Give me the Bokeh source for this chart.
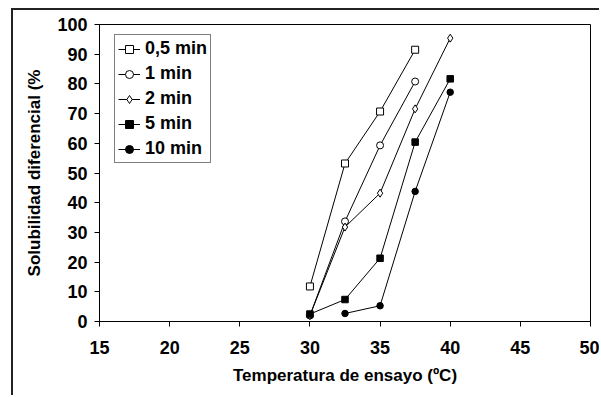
import numpy as np
from bokeh.plotting import figure
from bokeh.models import FixedTicker, Range1d
from bokeh.embed import file_html
from bokeh.resources import INLINE

# Data
temps_05 = [30, 32.5, 35, 37.5]
sol_05 = [11.8, 53.2, 70.7, 91.5]
temps_1 = [30, 32.5, 35, 37.5]
sol_1 = [2.0, 33.7, 59.3, 80.8]
temps_2 = [30, 32.5, 35, 37.5, 40]
sol_2 = [2.0, 31.8, 43.2, 71.6, 95.4]
temps_5 = [30, 32.5, 35, 37.5, 40]
sol_5 = [2.5, 7.4, 21.3, 60.4, 81.7]
temps_10 = [32.5, 35, 37.5, 40]
sol_10 = [2.7, 5.3, 43.8, 77.2]
series_labels = ["0,5 min", "1 min", "2 min", "5 min", "10 min"]
x_ticks = [15, 20, 25, 30, 35, 40, 45, 50]
y_ticks = [0, 10, 20, 30, 40, 50, 60, 70, 80, 90, 100]

FONT = "Liberation Sans"

# host at (11, 8) with 2px left/top border -> canvas at (13, 10); frame at x 99..590, y 24..321
p = figure(width=588, height=387, output_backend="svg", toolbar_location=None,
           x_range=Range1d(15, 50), y_range=Range1d(0, 100),
           min_border_left=86, min_border_top=14, min_border_right=11, min_border_bottom=76)
p.margin = (8, 0, 0, 11)
p.styles = {"border": "2px solid #222222",
            "border-right-style": "none",
            "border-bottom-style": "none",
            "background": "#ffffff"}

p.xgrid.visible = False
p.ygrid.visible = False
p.outline_line_color = "black"
p.outline_line_width = 1
p.background_fill_color = "white"
p.border_fill_alpha = 0

for ax in (p.xaxis[0], p.yaxis[0]):
    ax.axis_line_color = "black"
    ax.major_tick_line_color = "black"
    ax.minor_tick_line_color = None
    ax.major_tick_in = 0
    ax.major_tick_out = 5
    ax.major_label_text_font = FONT
    ax.major_label_text_font_style = "bold"
    ax.major_label_text_font_size = "18px"
    ax.major_label_text_color = "black"
    ax.axis_label_text_font = FONT
    ax.axis_label_text_font_style = "bold"
    ax.axis_label_text_font_size = "17px"
    ax.axis_label_text_color = "black"

p.xaxis.ticker = FixedTicker(ticks=x_ticks)
p.yaxis.ticker = FixedTicker(ticks=y_ticks)
p.xaxis.major_label_standoff = 14
p.yaxis.major_label_standoff = 7
p.xaxis.axis_label = "Temperatura de ensayo (ºC)"
p.yaxis.axis_label = "Solubilidad diferencial (%"
p.xaxis.axis_label_standoff = 9
p.yaxis.axis_label_standoff = 10

lw = 1
p.line(temps_05, sol_05, line_color="black", line_width=lw, legend_label=series_labels[0])
p.scatter(temps_05, sol_05, marker="square", size=7, fill_color="white", line_color="black",
          legend_label=series_labels[0])

p.line(temps_1, sol_1, line_color="black", line_width=lw, legend_label=series_labels[1])
p.scatter(temps_1, sol_1, marker="circle", size=7, fill_color="white", line_color="black",
          legend_label=series_labels[1])

p.line(temps_2, sol_2, line_color="black", line_width=lw, legend_label=series_labels[2])
p.scatter(temps_2, sol_2, marker="diamond", size=8, fill_color="white",
          line_color="black", legend_label=series_labels[2])

p.line(temps_5, sol_5, line_color="black", line_width=lw, legend_label=series_labels[3])
p.scatter(temps_5, sol_5, marker="square", size=6.5, fill_color="black", line_color="black",
          legend_label=series_labels[3])

p.line(temps_10, sol_10, line_color="black", line_width=lw, legend_label=series_labels[4])
p.scatter(temps_10, sol_10, marker="circle", size=6.5, fill_color="black", line_color="black",
          legend_label=series_labels[4])

lg = p.legend[0]
lg.location = (15, 158)
lg.border_line_color = "black"
lg.border_line_width = 1
lg.background_fill_color = "white"
lg.background_fill_alpha = 1
lg.label_text_font = FONT
lg.label_text_font_style = "bold"
lg.label_text_font_size = "18px"
lg.label_text_color = "black"
lg.glyph_width = 22
lg.glyph_height = 20
lg.label_height = 20
lg.spacing = 4
lg.padding = 3
lg.margin = 0
lg.label_standoff = 5

open("out.html", "w").write(file_html(p, INLINE))
